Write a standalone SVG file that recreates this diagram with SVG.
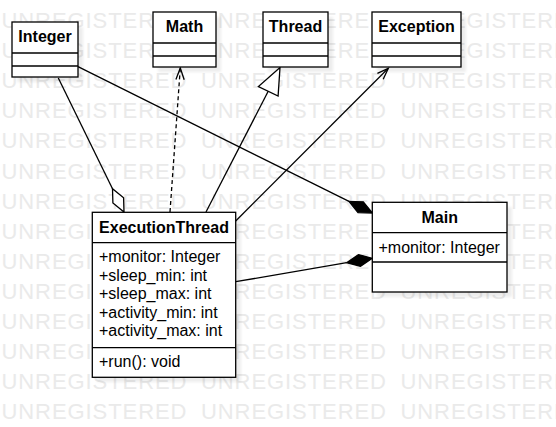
<svg xmlns="http://www.w3.org/2000/svg" width="556" height="427" viewBox="0 0 556 427">
<style>
.wm{font-family:"Liberation Sans",Arial,sans-serif;font-size:22px;fill:#eaeaea}
.box{fill:#fff;stroke:#000;stroke-width:1.3}
.sep{stroke:#000;stroke-width:1.3}
.sh{fill:#000;opacity:0.07;filter:url(#blur)}
.title{font-family:"Liberation Sans",Arial,sans-serif;font-size:16px;font-weight:bold;fill:#000;text-anchor:middle}
.attr{font-family:"Liberation Sans",Arial,sans-serif;font-size:16px;fill:#000}
.ln{fill:none;stroke:#000;stroke-width:1.3}
.hollow{fill:#fff;stroke:#000;stroke-width:1.3}
.filled{fill:#000;stroke:#000;stroke-width:1.3}
</style>
<defs>
<filter id="blur" x="-10%" y="-10%" width="130%" height="130%"><feGaussianBlur stdDeviation="1.5"/></filter>
</defs>
<rect width="556" height="427" fill="#fff"/>
<g id="watermark" class="wm">
<text y="28"><tspan x="1.5" textLength="185" lengthAdjust="spacing">UNREGISTERED</tspan><tspan x="201" textLength="185" lengthAdjust="spacing">UNREGISTERED</tspan><tspan x="400.5" textLength="185" lengthAdjust="spacing">UNREGISTERED</tspan></text>
<text y="58.1"><tspan x="1.5" textLength="185" lengthAdjust="spacing">UNREGISTERED</tspan><tspan x="201" textLength="185" lengthAdjust="spacing">UNREGISTERED</tspan><tspan x="400.5" textLength="185" lengthAdjust="spacing">UNREGISTERED</tspan></text>
<text y="88.2"><tspan x="1.5" textLength="185" lengthAdjust="spacing">UNREGISTERED</tspan><tspan x="201" textLength="185" lengthAdjust="spacing">UNREGISTERED</tspan><tspan x="400.5" textLength="185" lengthAdjust="spacing">UNREGISTERED</tspan></text>
<text y="118.3"><tspan x="1.5" textLength="185" lengthAdjust="spacing">UNREGISTERED</tspan><tspan x="201" textLength="185" lengthAdjust="spacing">UNREGISTERED</tspan><tspan x="400.5" textLength="185" lengthAdjust="spacing">UNREGISTERED</tspan></text>
<text y="148.4"><tspan x="1.5" textLength="185" lengthAdjust="spacing">UNREGISTERED</tspan><tspan x="201" textLength="185" lengthAdjust="spacing">UNREGISTERED</tspan><tspan x="400.5" textLength="185" lengthAdjust="spacing">UNREGISTERED</tspan></text>
<text y="178.5"><tspan x="1.5" textLength="185" lengthAdjust="spacing">UNREGISTERED</tspan><tspan x="201" textLength="185" lengthAdjust="spacing">UNREGISTERED</tspan><tspan x="400.5" textLength="185" lengthAdjust="spacing">UNREGISTERED</tspan></text>
<text y="208.6"><tspan x="1.5" textLength="185" lengthAdjust="spacing">UNREGISTERED</tspan><tspan x="201" textLength="185" lengthAdjust="spacing">UNREGISTERED</tspan><tspan x="400.5" textLength="185" lengthAdjust="spacing">UNREGISTERED</tspan></text>
<text y="238.7"><tspan x="1.5" textLength="185" lengthAdjust="spacing">UNREGISTERED</tspan><tspan x="201" textLength="185" lengthAdjust="spacing">UNREGISTERED</tspan><tspan x="400.5" textLength="185" lengthAdjust="spacing">UNREGISTERED</tspan></text>
<text y="268.8"><tspan x="1.5" textLength="185" lengthAdjust="spacing">UNREGISTERED</tspan><tspan x="201" textLength="185" lengthAdjust="spacing">UNREGISTERED</tspan><tspan x="400.5" textLength="185" lengthAdjust="spacing">UNREGISTERED</tspan></text>
<text y="298.9"><tspan x="1.5" textLength="185" lengthAdjust="spacing">UNREGISTERED</tspan><tspan x="201" textLength="185" lengthAdjust="spacing">UNREGISTERED</tspan><tspan x="400.5" textLength="185" lengthAdjust="spacing">UNREGISTERED</tspan></text>
<text y="329"><tspan x="1.5" textLength="185" lengthAdjust="spacing">UNREGISTERED</tspan><tspan x="201" textLength="185" lengthAdjust="spacing">UNREGISTERED</tspan><tspan x="400.5" textLength="185" lengthAdjust="spacing">UNREGISTERED</tspan></text>
<text y="359.1"><tspan x="1.5" textLength="185" lengthAdjust="spacing">UNREGISTERED</tspan><tspan x="201" textLength="185" lengthAdjust="spacing">UNREGISTERED</tspan><tspan x="400.5" textLength="185" lengthAdjust="spacing">UNREGISTERED</tspan></text>
<text y="389.2"><tspan x="1.5" textLength="185" lengthAdjust="spacing">UNREGISTERED</tspan><tspan x="201" textLength="185" lengthAdjust="spacing">UNREGISTERED</tspan><tspan x="400.5" textLength="185" lengthAdjust="spacing">UNREGISTERED</tspan></text>
<text y="419.3"><tspan x="1.5" textLength="185" lengthAdjust="spacing">UNREGISTERED</tspan><tspan x="201" textLength="185" lengthAdjust="spacing">UNREGISTERED</tspan><tspan x="400.5" textLength="185" lengthAdjust="spacing">UNREGISTERED</tspan></text>
</g>
<g id="shadows">
<rect class="sh" x="17" y="27" width="66" height="55"/>
<rect class="sh" x="158" y="17" width="63" height="55"/>
<rect class="sh" x="268" y="17" width="65" height="55"/>
<rect class="sh" x="377" y="17" width="89" height="55"/>
<rect class="sh" x="97" y="217" width="144" height="165"/>
<rect class="sh" x="377" y="207" width="135" height="90"/>
</g>
<g id="connectors">
<line class="ln" x1="58.3" y1="78" x2="112.5" y2="188.7"/>
<polygon class="hollow" points="124,212 123.6,197.7 112.5,188.7 112.9,203"/>
<line class="ln" x1="170" y1="212" x2="180.3" y2="68" stroke-dasharray="4,3"/>
<polyline class="ln" points="175.9,79.6 180.3,68 184.2,79.8"/>
<line class="ln" x1="206" y1="212" x2="268.2" y2="91.3"/>
<polygon class="hollow" points="280,67.5 278.1,96 258.4,86.6"/>
<line class="ln" x1="235.7" y1="221" x2="388.3" y2="68.3"/>
<polyline class="ln" points="377.4,73.4 388.3,68.3 383.2,79.2"/>
<line class="ln" x1="78" y1="66.7" x2="349" y2="201.4"/>
<polygon class="filled" points="372.3,213 363.3,201.8 349,201.4 358,212.6"/>
<line class="ln" x1="235.7" y1="281.7" x2="346.7" y2="262.7"/>
<polygon class="filled" points="372.3,258.3 358.5,254.6 346.7,262.7 360.5,266.4"/>
</g>
<g id="Integer">
<rect class="box" x="12" y="22" width="66" height="55"/>
<line class="sep" x1="12" y1="53" x2="78" y2="53"/>
<line class="sep" x1="12" y1="66" x2="78" y2="66"/>
<text class="title" x="45" y="42">Integer</text>
</g>
<g id="Math">
<rect class="box" x="153" y="12" width="63" height="55"/>
<line class="sep" x1="153" y1="43" x2="216" y2="43"/>
<line class="sep" x1="153" y1="56" x2="216" y2="56"/>
<text class="title" x="184.5" y="32">Math</text>
</g>
<g id="Thread">
<rect class="box" x="263" y="12" width="65" height="55"/>
<line class="sep" x1="263" y1="43" x2="328" y2="43"/>
<line class="sep" x1="263" y1="56" x2="328" y2="56"/>
<text class="title" x="295.5" y="32">Thread</text>
</g>
<g id="Exception">
<rect class="box" x="372" y="12" width="89" height="55"/>
<line class="sep" x1="372" y1="43" x2="461" y2="43"/>
<line class="sep" x1="372" y1="56" x2="461" y2="56"/>
<text class="title" x="416.5" y="32">Exception</text>
</g>
<g id="ExecutionThread">
<rect class="box" x="92.3" y="212.3" width="143.4" height="165"/>
<line class="sep" x1="92.3" y1="242.7" x2="235.7" y2="242.7"/>
<line class="sep" x1="92.3" y1="347.7" x2="235.7" y2="347.7"/>
<text class="title" x="164" y="233">ExecutionThread</text>
<text class="attr" x="99" y="262">+monitor: Integer</text>
<text class="attr" x="99" y="280.5">+sleep_min: int</text>
<text class="attr" x="99" y="299">+sleep_max: int</text>
<text class="attr" x="99" y="317.5">+activity_min: int</text>
<text class="attr" x="99" y="336">+activity_max: int</text>
<text class="attr" x="99" y="367">+run(): void</text>
</g>
<g id="Main">
<rect class="box" x="372.3" y="202.3" width="134.7" height="89.7"/>
<line class="sep" x1="372.3" y1="232.7" x2="507" y2="232.7"/>
<line class="sep" x1="372.3" y1="262" x2="507" y2="262"/>
<text class="title" x="439.7" y="223">Main</text>
<text class="attr" x="378.5" y="252.5">+monitor: Integer</text>
</g>
</svg>
